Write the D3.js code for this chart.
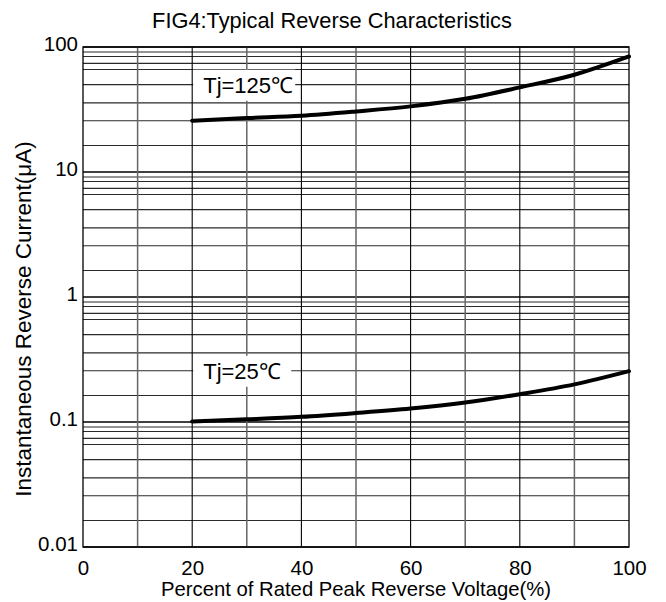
<!DOCTYPE html>
<html>
<head>
<meta charset="utf-8">
<script src="https://cdn.jsdelivr.net/npm/d3@7"></script>
<style>
  body { margin: 0; background: #fff; }
  text { font-family: "Liberation Sans", Arial, sans-serif; fill: #000; }
</style>
</head>
<body>
<svg width="666" height="602"></svg>
<script>
// data
var voltage = [20, 30, 40, 50, 60, 70, 80, 90, 100];
var current125 = [25.7, 27, 28.2, 30.5, 33.5, 38.5, 47.5, 60, 84];
var current25 = [0.101, 0.105, 0.11, 0.118, 0.128, 0.143, 0.167, 0.2, 0.255];

var xTicks = [0, 20, 40, 60, 80, 100];
var xGrid = [10, 20, 30, 40, 50, 60, 70, 80, 90];
var yTicks = [0.01, 0.1, 1, 10, 100];
var yTickLabels = ['0.01', '0.1', '1', '10', '100'];
// minor grid rows inside each decade, as drawn in the reference
var gridMultipliers = [1.63, 2.57, 3.57, 5, 6.6, 7.39, 8.4, 9.12];

var svg = d3.select('svg');

// plot box (window.top is taken, so prefixed names)
var plotLeft = 83, plotRight = 629, plotTop = 47, plotBottom = 547;

var xscale = d3.scaleLinear()
    .domain([0, 100])
    .range([plotLeft, plotRight]);

var yscale = d3.scaleLog()
    .domain([0.01, 100])
    .range([plotBottom, plotTop]);

// horizontal grid
var rows = [];
yTicks.slice(0, -1).forEach(function (d) {
    gridMultipliers.forEach(function (m) { rows.push(d * m); });
});

svg.append('g')
    .selectAll('line')
    .data(rows)
    .join('line')
    .attr('x1', plotLeft)
    .attr('x2', plotRight)
    .attr('y1', function (d) { return yscale(d); })
    .attr('y2', function (d) { return yscale(d); })
    .attr('stroke', '#2a2a2a')
    .attr('stroke-width', 1.1);

svg.append('g')
    .selectAll('line')
    .data(yTicks)
    .join('line')
    .attr('x1', plotLeft)
    .attr('x2', plotRight)
    .attr('y1', function (d) { return yscale(d); })
    .attr('y2', function (d) { return yscale(d); })
    .attr('stroke', '#000')
    .attr('stroke-width', 1.3);

// vertical grid, odd ones lighter
svg.append('g')
    .selectAll('line')
    .data(xGrid)
    .join('line')
    .attr('x1', function (d) { return xscale(d); })
    .attr('x2', function (d) { return xscale(d); })
    .attr('y1', plotTop)
    .attr('y2', plotBottom)
    .attr('stroke', function (d) { return d % 20 == 0 ? '#000' : '#666'; })
    .attr('stroke-width', function (d) { return d % 20 == 0 ? 1.1 : 1.5; });

// frame
svg.append('rect')
    .attr('x', plotLeft)
    .attr('y', plotTop)
    .attr('width', plotRight - plotLeft)
    .attr('height', plotBottom - plotTop)
    .attr('fill', 'none')
    .attr('stroke', '#000')
    .attr('stroke-width', 1.3);

// axes
var x_axis = d3.axisBottom()
    .scale(xscale)
    .tickValues(xTicks)
    .tickSize(0)
    .tickPadding(13);

svg.append('g')
    .attr('transform', 'translate(0,' + plotBottom + ')')
    .call(x_axis)
    .call(function (g) { g.select('.domain').remove(); })
    .selectAll('text')
    .style('font-size', '20.5px')
    .style('font-family', '"Liberation Sans", Arial, sans-serif');

var y_axis = d3.axisLeft()
    .scale(yscale)
    .tickValues(yTicks)
    .tickFormat(function (d, i) { return yTickLabels[i]; })
    .tickSize(0)
    .tickPadding(5);

svg.append('g')
    .attr('transform', 'translate(' + plotLeft + ',0)')
    .call(y_axis)
    .call(function (g) { g.select('.domain').remove(); })
    .selectAll('text')
    .attr('y', -3)
    .style('font-size', '20.5px')
    .style('font-family', '"Liberation Sans", Arial, sans-serif');

// curves
var line = d3.line()
    .x(function (d) { return xscale(d[0]); })
    .y(function (d) { return yscale(d[1]); })
    .curve(d3.curveMonotoneX);

[current125, current25].forEach(function (series) {
    svg.append('path')
        .datum(d3.zip(voltage, series))
        .attr('d', line)
        .attr('fill', 'none')
        .attr('stroke', '#000')
        .attr('stroke-width', 4)
        .attr('stroke-linecap', 'round');
});

// curve labels with white boxes, sitting on a grid row
var labels = [
    { text: 'Tj=125℃', x: 20, y: 49.93, w: 102 },
    { text: 'Tj=25℃', x: 20, y: 0.257, w: 98 }
];

labels.forEach(function (l) {
    var cx = xscale(l.x), cy = yscale(l.y);
    svg.append('rect')
        .attr('x', cx + 1)
        .attr('y', cy - 15)
        .attr('width', l.w)
        .attr('height', 31)
        .attr('fill', '#fff');
    svg.append('text')
        .attr('x', cx + 11)
        .attr('y', cy + 8)
        .style('font-size', '22px')
        .text(l.text);
});

// titles
svg.append('text')
    .attr('x', 332)
    .attr('y', 28)
    .attr('text-anchor', 'middle')
    .style('font-size', '21.8px')
    .text('FIG4:Typical Reverse Characteristics');

svg.append('text')
    .attr('x', (plotLeft + plotRight) / 2)
    .attr('y', 596)
    .attr('text-anchor', 'middle')
    .style('font-size', '20.3px')
    .text('Percent of Rated Peak Reverse Voltage(%)');

svg.append('text')
    .attr('transform', 'translate(31,319)rotate(-90)')
    .attr('text-anchor', 'middle')
    .style('font-size', '22.5px')
    .text('Instantaneous Reverse Current(μA)');
</script>
</body>
</html>
